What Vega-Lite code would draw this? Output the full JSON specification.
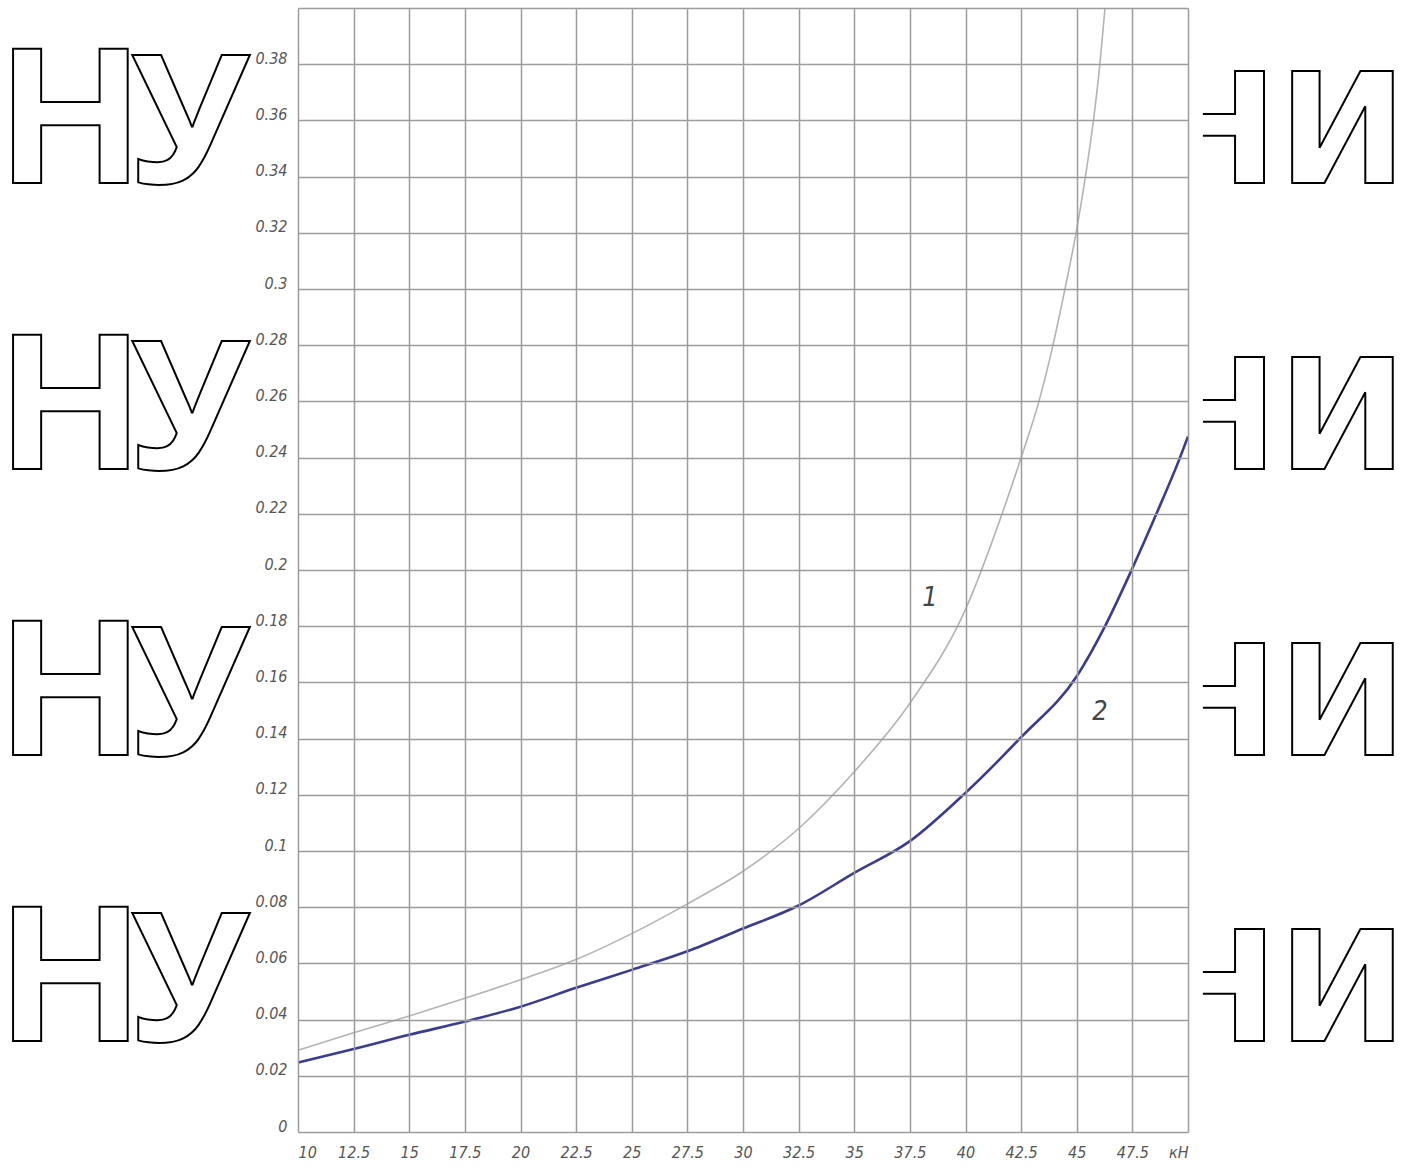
{
  "$schema": "https://vega.github.io/schema/vega-lite/v6.json",
  "width": 890,
  "height": 1124,
  "autosize": {"type": "none"},
  "padding": {"left": 298, "top": 8, "right": 220, "bottom": 39},
  "background": "white",
  "config": {"view": {"stroke": null}},
  "datasets": {
    "curves": [
      {"series": "1", "x": 10, "y": 0.0291},
      {"series": "1", "x": 12.5, "y": 0.0353},
      {"series": "1", "x": 15, "y": 0.0413},
      {"series": "1", "x": 17.5, "y": 0.0476},
      {"series": "1", "x": 20, "y": 0.0542},
      {"series": "1", "x": 22.5, "y": 0.0614},
      {"series": "1", "x": 25, "y": 0.0706},
      {"series": "1", "x": 27.5, "y": 0.0812},
      {"series": "1", "x": 30, "y": 0.0928},
      {"series": "1", "x": 32.5, "y": 0.108},
      {"series": "1", "x": 35, "y": 0.1282},
      {"series": "1", "x": 37.5, "y": 0.1526},
      {"series": "1", "x": 40, "y": 0.186},
      {"series": "1", "x": 41.6, "y": 0.219},
      {"series": "1", "x": 42.5, "y": 0.24},
      {"series": "1", "x": 43.3, "y": 0.26},
      {"series": "1", "x": 43.93, "y": 0.28},
      {"series": "1", "x": 44.47, "y": 0.3},
      {"series": "1", "x": 44.97, "y": 0.32},
      {"series": "1", "x": 45.39, "y": 0.34},
      {"series": "1", "x": 45.75, "y": 0.36},
      {"series": "1", "x": 46.04, "y": 0.38},
      {"series": "1", "x": 46.27, "y": 0.4},
      {"series": "2", "x": 10, "y": 0.0247},
      {"series": "2", "x": 12.5, "y": 0.0295},
      {"series": "2", "x": 15, "y": 0.0346},
      {"series": "2", "x": 17.5, "y": 0.0393},
      {"series": "2", "x": 20, "y": 0.0446},
      {"series": "2", "x": 22.5, "y": 0.0513},
      {"series": "2", "x": 25, "y": 0.0577},
      {"series": "2", "x": 27.5, "y": 0.0643},
      {"series": "2", "x": 30, "y": 0.0724},
      {"series": "2", "x": 32.5, "y": 0.0806},
      {"series": "2", "x": 35, "y": 0.0922},
      {"series": "2", "x": 37.5, "y": 0.1035},
      {"series": "2", "x": 40, "y": 0.1207},
      {"series": "2", "x": 42.5, "y": 0.1405},
      {"series": "2", "x": 45, "y": 0.1622},
      {"series": "2", "x": 46.25, "y": 0.1797},
      {"series": "2", "x": 47.5, "y": 0.2006},
      {"series": "2", "x": 48.58, "y": 0.22},
      {"series": "2", "x": 49.64, "y": 0.24},
      {"series": "2", "x": 50, "y": 0.2475}
    ],
    "curveLabels": [
      {"label": "1", "x": 38.4, "y": 0.19},
      {"label": "2", "x": 46.04, "y": 0.1495}
    ],
    "watermark": [
      {"part": "leftH", "text": "Н", "x": -3.39, "y": 0.3377},
      {"part": "leftH", "text": "Н", "x": -3.39, "y": 0.2359},
      {"part": "leftH", "text": "Н", "x": -3.39, "y": 0.1342},
      {"part": "leftH", "text": "Н", "x": -3.39, "y": 0.0324},
      {"part": "leftU", "text": "У", "x": 7.84, "y": 0.3377},
      {"part": "leftU", "text": "У", "x": 7.84, "y": 0.2359},
      {"part": "leftU", "text": "У", "x": 7.84, "y": 0.1342},
      {"part": "leftU", "text": "У", "x": 7.84, "y": 0.0324},
      {"part": "right", "text": "НИ", "x": 59.84, "y": 0.3377},
      {"part": "right", "text": "НИ", "x": 59.84, "y": 0.2359},
      {"part": "right", "text": "НИ", "x": 59.84, "y": 0.1342},
      {"part": "right", "text": "НИ", "x": 59.84, "y": 0.0324}
    ],
    "cover": [
      {"x": 10, "x2": 50.67, "y": 0, "y2": 0.4}
    ]
  },
  "encoding": {
    "x": {
      "field": "x",
      "type": "quantitative",
      "scale": {"domain": [10, 50], "nice": false, "zero": false},
      "axis": {
        "title": null,
        "values": [10, 12.5, 15, 17.5, 20, 22.5, 25, 27.5, 30, 32.5, 35, 37.5, 40, 42.5, 45, 47.5, 50],
        "labelExpr": "datum.value == 50 ? 'кН' : format(datum.value, '.1~f')",
        "grid": true,
        "gridColor": "#9c9c9c",
        "gridWidth": 1.5,
        "gridOpacity": 1,
        "ticks": false,
        "domain": false,
        "labelFlush": true,
        "labelOverlap": false,
        "labelFont": "DejaVu Sans Condensed",
        "labelFontSize": 16,
        "labelFontStyle": "italic",
        "labelColor": "#555555",
        "labelPadding": 12,
        "zindex": 1
      }
    },
    "y": {
      "field": "y",
      "type": "quantitative",
      "scale": {"domain": [0, 0.4], "nice": false, "zero": false},
      "axis": {
        "title": null,
        "values": [0, 0.02, 0.04, 0.06, 0.08, 0.1, 0.12, 0.14, 0.16, 0.18, 0.2, 0.22, 0.24, 0.26, 0.28, 0.3, 0.32, 0.34, 0.36, 0.38, 0.4],
        "labelExpr": "datum.value > 0.39 ? '' : format(datum.value, '.2~f')",
        "grid": true,
        "gridColor": "#9c9c9c",
        "gridWidth": 1.5,
        "gridOpacity": 1,
        "ticks": false,
        "domain": false,
        "labelOverlap": false,
        "labelFont": "DejaVu Sans Condensed",
        "labelFontSize": 16,
        "labelFontStyle": "italic",
        "labelColor": "#555555",
        "labelPadding": 11,
        "labelOffset": -6,
        "zindex": 1
      }
    }
  },
  "layer": [
    {
      "data": {"name": "watermark"},
      "transform": [{"filter": "datum.part == 'leftU'"}],
      "mark": {"type": "text", "align": "right", "baseline": "alphabetic", "font": "Open Sans", "fontWeight": "bold", "fontSize": 180, "fill": "white", "stroke": "black", "strokeWidth": 2},
      "encoding": {"text": {"field": "text"}}
    },
    {
      "data": {"name": "watermark"},
      "transform": [{"filter": "datum.part == 'leftH'"}],
      "mark": {"type": "text", "align": "left", "baseline": "alphabetic", "font": "Liberation Sans", "fontWeight": "bold", "fontSize": 195, "fill": "white", "stroke": "black", "strokeWidth": 2},
      "encoding": {"text": {"field": "text"}}
    },
    {
      "data": {"name": "watermark"},
      "transform": [{"filter": "datum.part == 'right'"}],
      "mark": {"type": "text", "align": "right", "baseline": "alphabetic", "font": "DejaVu Sans", "fontWeight": "bold", "fontSize": 154, "fill": "white", "stroke": "black", "strokeWidth": 2},
      "encoding": {"text": {"field": "text"}}
    },
    {
      "data": {"name": "cover"},
      "mark": {"type": "rect", "fill": "white", "stroke": null},
      "encoding": {
        "x2": {"field": "x2"},
        "y2": {"field": "y2"}
      }
    },
    {
      "data": {"name": "curves"},
      "transform": [{"filter": "datum.series == '1'"}],
      "mark": {"type": "line", "interpolate": "monotone", "color": "#b4b4b4", "strokeWidth": 1.6},
      "encoding": {}
    },
    {
      "data": {"name": "curves"},
      "transform": [{"filter": "datum.series == '2'"}],
      "mark": {"type": "line", "interpolate": "monotone", "color": "#3b3b8f", "strokeWidth": 2.6},
      "encoding": {}
    },
    {
      "data": {"name": "curveLabels"},
      "mark": {"type": "text", "align": "center", "baseline": "middle", "font": "DejaVu Sans Condensed", "fontStyle": "italic", "fontSize": 27, "color": "#444444"},
      "encoding": {"text": {"field": "label"}}
    }
  ]
}
